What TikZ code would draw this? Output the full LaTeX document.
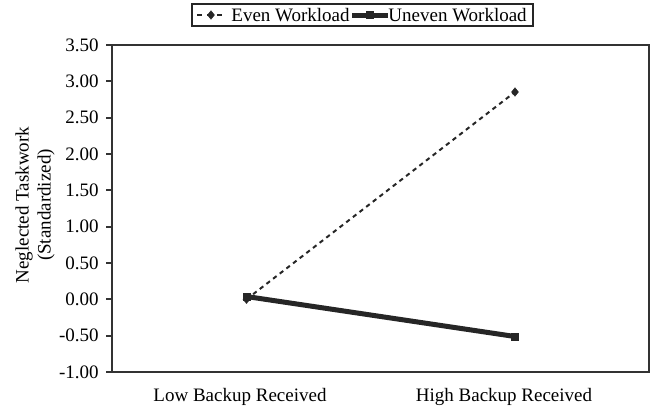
\documentclass[tikz,border=0pt]{standalone}
\usepackage{fontspec}
\setmainfont{Liberation Serif}
\usetikzlibrary{calc,positioning,shapes.geometric}
\tikzset{
  lbl/.style={font=\fontsize{9.5}{11}\selectfont, inner sep=0pt},
  axisline/.style={line width=1pt, black!80},
  evenline/.style={line width=1pt, dash pattern=on 2.2pt off 2pt, black!85},
  unevenline/.style={line width=2.5pt, black!85},
  diamondmark/.style={diamond, fill=black!85, inner sep=0pt, minimum width=4pt, minimum height=4.8pt},
  squaremark/.style={rectangle, fill=black!85, inner sep=0pt, minimum size=4pt}
}

\begin{document}
\begin{tikzpicture}[x=0.5pt,y=-0.5pt]
\useasboundingbox (0,0) rectangle (652,413);

% plot area
\draw[axisline] (112,45) rectangle (649,372);
\foreach \t [count=\i from 0] in {-1.00,-0.50,0.00,0.50,1.00,1.50,2.00,2.50,3.00,3.50}{
  \pgfmathsetmacro\yy{372-\i*36.33}
  \draw[axisline] (106,\yy) -- (112,\yy);
  \node[lbl, anchor=east] (tick\i) at (99,\yy) {\t};
}

% axis labels
\node[lbl, rotate=90, align=center] (ylab) at (35,205) {Neglected Taskwork\\(Standardized)};
\node[lbl] (low) at (240,397) {Low Backup Received};
\node[lbl] (high) at (504,397) {High Backup Received};

% data
\coordinate (evenlow) at (246.5,299.3);
\coordinate (evenhigh) at (515,92);
\coordinate (unevenlow) at (246.5,296.5);
\coordinate (unevenhigh) at (515,336.5);
\draw[evenline] (evenlow) -- (evenhigh);
\draw[unevenline] (unevenlow) -- (unevenhigh);
\node[diamondmark] at (evenlow) {};
\node[diamondmark] at (evenhigh) {};
\node[squaremark] at (unevenlow) {};
\node[squaremark] at (unevenhigh) {};

% legend
\draw[line width=0.8pt, black!85] (192,4) rectangle (533,26);
\coordinate (evenA) at (197,15);
\coordinate (evenB) at (225,15);
\draw[evenline, line width=1.3pt, dash pattern=on 2.5pt off 2.5pt] (evenA) -- (evenB);
\node[diamondmark] at ($(evenA)!0.5!(evenB)$) {};
\node[lbl, right=3pt of evenB] (evenkey) {Even Workload};
\coordinate[right=1pt of evenkey] (unevenA);
\coordinate[right=18pt of unevenA] (unevenB);
\draw[unevenline] (unevenA) -- (unevenB);
\node[squaremark] at ($(unevenA)!0.5!(unevenB)$) {};
\node[lbl, right=0pt of unevenB] (unevenkey) {Uneven Workload};
\end{tikzpicture}
\end{document}
